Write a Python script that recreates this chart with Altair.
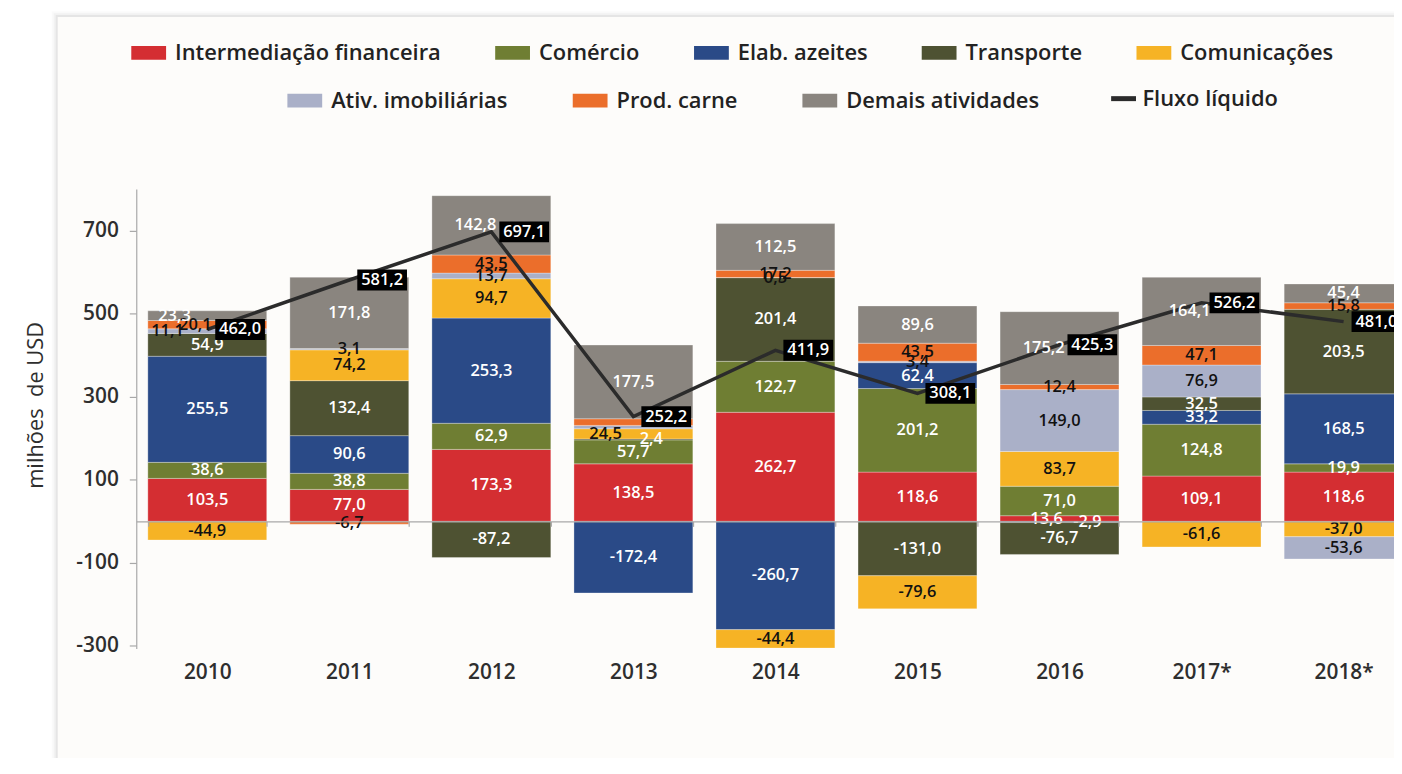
import altair as alt
import pandas as pd

# ---------------- data ----------------
anos = ["2010", "2011", "2012", "2013", "2014", "2015", "2016", "2017*", "2018*"]

setores = ["Intermediação financeira", "Comércio", "Elab. azeites", "Transporte",
           "Comunicações", "Ativ. imobiliárias", "Prod. carne", "Demais atividades"]
cores = ["#D42E32", "#6F7E33", "#2A4A87", "#4E5232", "#F6B325", "#AAB0C8", "#EB6E2B", "#8A857F"]

intermediacao = [103.5, 77.0, 173.3, 138.5, 262.7, 118.6, 13.6, 109.1, 118.6]
comercio = [38.6, 38.8, 62.9, 57.7, 122.7, 201.2, 71.0, 124.8, 19.9]
azeites = [255.5, 90.6, 253.3, -172.4, -260.7, 62.4, -2.9, 33.2, 168.5]
transporte = [54.9, 132.4, -87.2, 2.4, 201.4, -131.0, -76.7, 32.5, 203.5]
comunicacoes = [-44.9, 74.2, 94.7, 24.5, -44.4, -79.6, 83.7, -61.6, -37.0]
imobiliarias = [11.1, 3.1, 13.7, 8.0, 0.5, 3.4, 149.0, 76.9, -53.6]
carne = [20.1, -6.7, 43.5, 16.0, 17.2, 43.5, 12.4, 47.1, 15.8]
demais = [23.3, 171.8, 142.8, 177.5, 112.5, 89.6, 175.2, 164.1, 45.4]
fluxo = [462.0, 581.2, 697.1, 252.2, 411.9, 308.1, 425.3, 526.2, 481.0]

sem_rotulo = [("2013", "Ativ. imobiliárias"), ("2013", "Prod. carne")]
escuros = ["Comunicações", "Ativ. imobiliárias", "Prod. carne"]
y_ticks = [700, 500, 300, 100, -100, -300]
titulo_y = "milhões\u00a0 de USD"
serie_linha = "Fluxo líquido"

series = [intermediacao, comercio, azeites, transporte, comunicacoes, imobiliarias, carne, demais]

# label nudges (pixels) for crowded thin segments, as in the reference layout
ajustes_rotulo = {
    ("2010", "Demais atividades"): (-33, 0),
    ("2010", "Prod. carne"): (-12, 0),
    ("2010", "Ativ. imobiliárias"): (-40, 6),
    ("2012", "Demais atividades"): (-16, 0),
    ("2013", "Comunicações"): (-28, -4),
    ("2013", "Transporte"): (18, 0),
    ("2013", "Comércio"): (0, 3),
    ("2014", "Prod. carne"): (0, -6),
    ("2014", "Ativ. imobiliárias"): (0, 4),
    ("2015", "Prod. carne"): (0, -3),
    ("2016", "Intermediação financeira"): (-13, -5),
    ("2016", "Elab. azeites"): (28, 4),
    ("2016", "Demais atividades"): (-16, 0),
    ("2017*", "Demais atividades"): (-12, 0),
}


def fmt(v):
    return f"{v:.1f}".replace(".", ",")


rows = []
for i, (s, vals) in enumerate(zip(setores, series)):
    for a, v in zip(anos, vals):
        dx, dy = ajustes_rotulo.get((a, s), (0, 0))
        rows.append({"ano": a, "setor": s, "ordem": i, "valor": v,
                     "rotulo": "" if (a, s) in sem_rotulo else fmt(v),
                     "dx": dx, "dy": dy})
df = pd.DataFrame(rows)
df_f = pd.DataFrame({"ano": anos, "fluxo": fluxo, "serie": serie_linha,
                     "rotulo": [fmt(v) for v in fluxo]})

# ---------------- layout ----------------
FONT = "Open Sans"
STEP = 142.86
PAD_INNER = 0.163
BAND_HALF = STEP * (1 - PAD_INNER) / 2
PLOT_H = 462
YMIN, YMAX = -306, 800
PAD_L, PAD_T = 129, 180
TOTAL_W, TOTAL_H = 1394, 750
PLOT_W = TOTAL_W - PAD_L
ZERO_OFFSET = -(0 - YMIN) / (YMAX - YMIN) * PLOT_H

RECT_PATH = "M-1,-1H4V1H-1Z"
BOX_PATH = "M-1,-0.42H1V0.42H-1Z"

X_AXIS = alt.Axis(orient="bottom", offset=ZERO_OFFSET, domainColor="#A8A8A8", domainWidth=1.5,
                  tickBand="extent", tickSize=5, tickColor="#A8A8A8", tickWidth=1.2,
                  labelPadding=136, labelFont=FONT, labelFontSize=21, labelFontWeight=600,
                  labelColor="#2E2E2E", labelAngle=0, title=None, zindex=1)
Y_AXIS = alt.Axis(values=y_ticks, grid=False, domainColor="#A8A8A8", domainWidth=1.2,
                  tickColor="#A8A8A8", tickSize=7, tickWidth=1.2,
                  labelFont=FONT, labelFontSize=21, labelFontWeight=600, labelColor="#2E2E2E",
                  labelPadding=11, labelExpr="replace(datum.label, '\u2212', '-')",
                  title=titulo_y, titleFont=FONT, titleFontSize=22,
                  titleFontWeight=500, titleColor="#2E2E2E", titleAngle=270,
                  titleX=-101, titleY=217, titleAlign="center", titleBaseline="middle", zindex=1)

X = alt.X("ano:N", sort=anos,
          scale=alt.Scale(domain=anos, range=[0, STEP * len(anos)],
                          paddingInner=PAD_INNER, paddingOuter=PAD_INNER / 2),
          axis=X_AXIS)
YS = alt.Scale(domain=[YMIN, YMAX], nice=False, zero=False)

LEG_COMMON = dict(orient="none", direction="horizontal", title=None,
                  labelFont=FONT, labelFontSize=22, labelFontWeight=600,
                  labelColor="#222222", labelLimit=500)

leg1 = alt.Legend(legendX=-9, legendY=-148, symbolType=RECT_PATH, symbolSize=196,
                  symbolStrokeWidth=0, symbolOpacity=1, labelOffset=26, columnPadding=50,
                  **LEG_COMMON)
leg2 = alt.Legend(legendX=148, legendY=-100, symbolType=RECT_PATH, symbolSize=196,
                  symbolStrokeWidth=0, symbolOpacity=1, labelOffset=26, columnPadding=61,
                  **LEG_COMMON)
leg3 = alt.Legend(legendX=978, legendY=-106, symbolType="stroke", symbolSize=625,
                  symbolStrokeWidth=5, labelOffset=4, **LEG_COMMON)

# ---------------- decoration (panel) ----------------
deco = alt.Data(values=[{"k": 1}])


def panel(d, color, op):
    return alt.Chart(deco).mark_rect(color=color, opacity=op).encode(
        x=alt.value(-79 - d), x2=alt.value(PLOT_W + 60),
        y=alt.value(-173 - d), y2=alt.value(PLOT_H + 200))


sh1 = panel(6, "#9a9a9a", 0.05)
sh2 = panel(4, "#9a9a9a", 0.08)
sh3 = panel(2, "#9a9a9a", 0.14)
pan = panel(0, "#FDFCFA", 1)

# ---------------- marks ----------------
base = alt.Chart(df).transform_stack(
    stack="valor", groupby=["ano"], as_=["y0", "y1"],
    sort=[alt.SortField("ordem", order="ascending")])

bars1 = base.transform_filter(
    alt.FieldOneOfPredicate(field="setor", oneOf=setores[:5])
).mark_bar(stroke="white", strokeWidth=0.6, strokeOpacity=0.5).encode(
    x=X, y=alt.Y("y0:Q", scale=YS, axis=Y_AXIS), y2="y1:Q",
    color=alt.Color("setor:N", scale=alt.Scale(domain=setores[:5], range=cores[:5]), legend=leg1))

bars2 = base.transform_filter(
    alt.FieldOneOfPredicate(field="setor", oneOf=setores[5:])
).mark_bar(stroke="white", strokeWidth=0.6, strokeOpacity=0.5).encode(
    x=X, y=alt.Y("y0:Q", scale=YS, axis=Y_AXIS), y2="y1:Q",
    fill=alt.Fill("setor:N", scale=alt.Scale(domain=setores[5:], range=cores[5:]), legend=leg2))

labels = base.transform_filter("datum.rotulo != ''").transform_calculate(
    mid="(datum.y0 + datum.y1) / 2",
    dxc=f"datum.dx + {BAND_HALF}",
).mark_text(font=FONT, fontSize=16.5, fontWeight=600, baseline="middle").encode(
    x=X, y=alt.Y("mid:Q", scale=YS, axis=Y_AXIS), text="rotulo:N",
    xOffset=alt.XOffset("dxc:Q", scale=None), yOffset=alt.YOffset("dy:Q", scale=None),
    color=alt.condition(alt.FieldOneOfPredicate(field="setor", oneOf=escuros),
                        alt.value("#111111"), alt.value("white")))

line = alt.Chart(df_f).mark_line(strokeWidth=3.5).encode(
    x=X, y=alt.Y("fluxo:Q", scale=YS, axis=Y_AXIS),
    stroke=alt.Stroke("serie:N", scale=alt.Scale(domain=[serie_linha], range=["#2B2B2B"]), legend=leg3))

caixas = alt.Chart(df_f).mark_point(shape=BOX_PATH, size=2500, filled=True, color="black",
                                    opacity=1, xOffset=33).encode(
    x=X, y=alt.Y("fluxo:Q", scale=YS, axis=Y_AXIS))

textos = alt.Chart(df_f).mark_text(color="white", font=FONT, fontSize=16.5, fontWeight=600,
                                   xOffset=33, baseline="middle").encode(
    x=X, y=alt.Y("fluxo:Q", scale=YS, axis=Y_AXIS), text="rotulo:N")

chart = alt.layer(sh1, sh2, sh3, pan, bars1, bars2, line, labels, caixas, textos).properties(
    width=PLOT_W, height=PLOT_H,
    autosize=alt.AutoSizeParams(type="none"),
    padding={"left": PAD_L, "top": PAD_T, "right": 0, "bottom": TOTAL_H - PAD_T - PLOT_H},
    background="white",
).configure_view(stroke=None)

chart.save("out.html", embed_options={"renderer": "svg", "actions": False})
